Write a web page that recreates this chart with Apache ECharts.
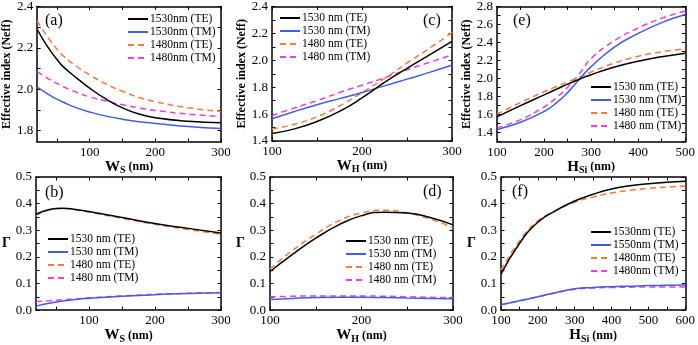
<!DOCTYPE html>
<html><head><meta charset="utf-8">
<script src="https://cdn.jsdelivr.net/npm/echarts@6/dist/echarts.min.js"></script>
<style>html,body{margin:0;padding:0;background:#fff}#c{width:698px;height:345px}</style>
</head><body><div id="c"></div>
<script>
// ---------- DATA ----------
// Panel (a): Neff vs Ws
const xA = [20, 30, 40, 50, 60, 80, 100, 125, 150, 175, 200, 250, 300];
const aTE1530 = [2.29, 2.235, 2.187, 2.145, 2.108, 2.055, 2.005, 1.952, 1.91, 1.88, 1.862, 1.845, 1.838];
const aTM1530 = [2.01, 1.99, 1.97, 1.952, 1.937, 1.91, 1.89, 1.87, 1.855, 1.843, 1.835, 1.82, 1.81];
const aTE1480 = [2.33, 2.28, 2.235, 2.195, 2.16, 2.11, 2.07, 2.025, 1.99, 1.96, 1.94, 1.91, 1.893];
const aTM1480 = [2.085, 2.065, 2.045, 2.028, 2.012, 1.985, 1.963, 1.943, 1.925, 1.91, 1.897, 1.88, 1.868];
// Panel (c): Neff vs WH
const xC = [100, 125, 150, 175, 200, 225, 250, 275, 300];
const cTE1530 = [1.455, 1.49, 1.545, 1.62, 1.72, 1.835, 1.94, 2.04, 2.14];
const cTM1530 = [1.565, 1.62, 1.67, 1.715, 1.76, 1.81, 1.86, 1.91, 1.965];
const cTE1480 = [1.49, 1.525, 1.58, 1.66, 1.76, 1.865, 1.98, 2.09, 2.205];
const cTM1480 = [1.59, 1.646, 1.70, 1.76, 1.815, 1.87, 1.93, 1.985, 2.04];
// Panel (e): Neff vs HSi
const xE = [100, 150, 200, 225, 250, 275, 300, 350, 400, 450, 500];
const eTE1530 = [1.57, 1.695, 1.815, 1.875, 1.935, 1.99, 2.04, 2.125, 2.19, 2.24, 2.28];
const eTM1530 = [1.43, 1.51, 1.63, 1.72, 1.84, 1.99, 2.13, 2.35, 2.50, 2.62, 2.71];
const eTE1480 = [1.60, 1.73, 1.85, 1.905, 1.96, 2.01, 2.07, 2.17, 2.245, 2.295, 2.33];
const eTM1480 = [1.45, 1.54, 1.68, 1.78, 1.90, 2.05, 2.22, 2.42, 2.56, 2.67, 2.75];
// Panel (b): Gamma vs Ws
const xB = [20, 40, 60, 80, 100, 150, 200, 250, 300];
const bTE1530 = [0.36, 0.378, 0.383, 0.378, 0.37, 0.348, 0.325, 0.307, 0.29];
const bTM1530 = [0.015, 0.026, 0.034, 0.04, 0.044, 0.052, 0.058, 0.062, 0.065];
const bTE1480 = [0.356, 0.376, 0.382, 0.377, 0.368, 0.345, 0.322, 0.303, 0.285];
const bTM1480 = [0.032, 0.035, 0.039, 0.042, 0.046, 0.053, 0.059, 0.063, 0.066];
// Panel (d): Gamma vs WH
const xD = [100, 125, 150, 175, 200, 225, 250, 275, 300];
const dTE1530 = [0.145, 0.21, 0.27, 0.32, 0.355, 0.368, 0.365, 0.348, 0.32];
const dTM1530 = [0.04, 0.044, 0.047, 0.048, 0.048, 0.047, 0.045, 0.044, 0.043];
const dTE1480 = [0.155, 0.225, 0.285, 0.335, 0.365, 0.375, 0.365, 0.342, 0.31];
const dTM1480 = [0.05, 0.052, 0.053, 0.053, 0.053, 0.052, 0.05, 0.048, 0.047];
// Panel (f): Gamma vs HSi
const xF = [100, 150, 200, 250, 300, 350, 400, 450, 500, 550, 600];
const fTE1530 = [0.135, 0.25, 0.33, 0.375, 0.41, 0.435, 0.455, 0.467, 0.475, 0.48, 0.484];
const fTM1550 = [0.02, 0.035, 0.05, 0.066, 0.08, 0.085, 0.088, 0.09, 0.092, 0.093, 0.094];
const fTE1480 = [0.15, 0.26, 0.335, 0.375, 0.405, 0.425, 0.44, 0.45, 0.457, 0.462, 0.466];
const fTM1480 = [0.02, 0.035, 0.05, 0.065, 0.078, 0.083, 0.085, 0.086, 0.087, 0.087, 0.087];

// Series names
const namesA = ['1530nm (TE)', '1530nm (TM)', '1480nm (TE)', '1480nm (TM)'];
const namesSp = ['1530 nm (TE)', '1530 nm (TM)', '1480 nm (TE)', '1480 nm (TM)'];
const namesF = ['1530nm (TE)', '1550nm (TM)', '1480nm (TE)', '1480nm (TM)'];

// Tick labels / tick positions
const xLabW = [100, 200, 300];
const xTickWs = [50, 100, 150, 200, 250, 300];
const xTickWH = [100, 150, 200, 250, 300];
const xLabH5 = [100, 200, 300, 400, 500];
const xTickH5 = [100, 150, 200, 250, 300, 350, 400, 450, 500];
const xLabH6 = [100, 200, 300, 400, 500, 600];
const xTickH6 = [100, 150, 200, 250, 300, 350, 400, 450, 500, 550, 600];
const yLabA = [1.8, 2.0, 2.2, 2.4];
const yTickA = [1.8, 1.9, 2.0, 2.1, 2.2, 2.3, 2.4];
const yLabC = [1.4, 1.6, 1.8, 2.0, 2.2, 2.4];
const yTickC = [1.4, 1.5, 1.6, 1.7, 1.8, 1.9, 2.0, 2.1, 2.2, 2.3, 2.4];
const yLabE = [1.4, 1.6, 1.8, 2.0, 2.2, 2.4, 2.6, 2.8];
const yTickE = [1.3, 1.4, 1.5, 1.6, 1.7, 1.8, 1.9, 2.0, 2.1, 2.2, 2.3, 2.4, 2.5, 2.6, 2.7, 2.8];
const yLabG = [0.0, 0.1, 0.2, 0.3, 0.4, 0.5];
const yTickG = [0, 0.05, 0.1, 0.15, 0.2, 0.25, 0.3, 0.35, 0.4, 0.45, 0.5];

// ---------- CHART ----------
const F = '"Liberation Serif", "Times New Roman", serif';
const COL = ['#000000', '#3f5fe0', '#f47a3c', '#f03be4'];
const DASH = [null, null, [6, 4], [6, 4]];

const richW = {
  b: {fontFamily: F, fontWeight: 'bold', fontSize: 15, color: '#000'},
  s: {fontFamily: F, fontWeight: 'bold', fontSize: 10, color: '#000', padding: [7, 0, 0, 0]},
  n: {fontFamily: F, fontWeight: 'bold', fontSize: 12, color: '#000'}
};
const nameWs = '{b|W}{s|S}{n| (nm)}';
const nameWH = '{b|W}{s|H}{n| (nm)}';
const nameHSi = '{b|H}{s|Si}{n| (nm)}';
const nameNeff = 'Effective index (Neff)';
const nameG = 'Γ';

const panels = [
  {grid: {left: 36, top: 6, width: 185, height: 136}, xMin: 20, xMax: 300, xT: xTickWs, xL: xLabW,
   yMin: 1.745, yMax: 2.4, yT: yTickA, yL: yLabA, xName: nameWs, yName: nameNeff,
   xs: xA, ys: [aTE1530, aTM1530, aTE1480, aTM1480], names: namesA, lg: [127, 13], tag: '(a)', tp: [45, 13]},
  {grid: {left: 272, top: 6, width: 180, height: 135}, xMin: 100, xMax: 300, xT: xTickWH, xL: xLabW,
   yMin: 1.4, yMax: 2.4, yT: yTickC, yL: yLabC, xName: nameWH, yName: nameNeff,
   xs: xC, ys: [cTE1530, cTM1530, cTE1480, cTM1480], names: namesSp, lg: [279, 12], tag: '(c)', tp: [423, 13]},
  {grid: {left: 497, top: 6, width: 191, height: 136}, xMin: 100, xMax: 500, xT: xTickH5, xL: xLabH5,
   yMin: 1.29, yMax: 2.8, yT: yTickE, yL: yLabE, xName: nameHSi, yName: nameNeff,
   xs: xE, ys: [eTE1530, eTM1530, eTE1480, eTM1480], names: namesSp, lg: [590, 81], tag: '(e)', tp: [513, 13]},
  {grid: {left: 36, top: 177, width: 185, height: 136}, xMin: 20, xMax: 300, xT: xTickWs, xL: xLabW,
   yMin: 0, yMax: 0.5, yT: yTickG, yL: yLabG, xName: nameWs, yName: nameG,
   xs: xB, ys: [bTE1530, bTM1530, bTE1480, bTM1480], names: namesSp, lg: [47, 233], tag: '(b)', tp: [45, 185]},
  {grid: {left: 270, top: 177, width: 183, height: 136}, xMin: 100, xMax: 300, xT: xTickWH, xL: xLabW,
   yMin: 0, yMax: 0.5, yT: yTickG, yL: yLabG, xName: nameWH, yName: nameG,
   xs: xD, ys: [dTE1530, dTM1530, dTE1480, dTM1480], names: namesSp, lg: [345, 235], tag: '(d)', tp: [423, 184]},
  {grid: {left: 501, top: 177, width: 187, height: 136}, xMin: 100, xMax: 600, xT: xTickH6, xL: xLabH6,
   yMin: 0, yMax: 0.5, yT: yTickG, yL: yLabG, xName: nameHSi, yName: nameG,
   xs: xF, ys: [fTE1530, fTM1550, fTE1480, fTM1480], names: namesF, lg: [590, 226], tag: '(f)', tp: [512, 184]}
];

const grids = [], xAxes = [], yAxes = [], series = [], legends = [], graphics = [];
const axLine = {show: true, onZero: false, lineStyle: {color: '#000', width: 1.5}};
panels.forEach((p, i) => {
  grids.push(Object.assign({containLabel: false}, p.grid));
  const tickX = {show: true, inside: true, length: 3.5, customValues: p.xT, lineStyle: {color: '#000', width: 1}};
  const tickY = {show: true, inside: true, length: 3.5, customValues: p.yT, lineStyle: {color: '#000', width: 1}};
  xAxes.push({type: 'value', gridIndex: i, position: 'bottom', min: p.xMin, max: p.xMax,
    axisLine: axLine, axisTick: tickX, splitLine: {show: false}, minorTick: {show: false},
    axisLabel: {show: true, customValues: p.xL, margin: 4, fontFamily: F, fontSize: 13, color: '#000',
      formatter: v => String(Math.round(v))},
    name: p.xName, nameLocation: 'middle', nameGap: 13, nameTextStyle: {rich: richW}});
  xAxes.push({type: 'value', gridIndex: i, position: 'top', min: p.xMin, max: p.xMax,
    axisLine: axLine, axisTick: tickX, splitLine: {show: false}, axisLabel: {show: false}});
  const isG = p.yName === nameG;
  yAxes.push({type: 'value', gridIndex: i, position: 'left', min: p.yMin, max: p.yMax,
    axisLine: axLine, axisTick: tickY, splitLine: {show: false}, minorTick: {show: false},
    axisLabel: {show: true, customValues: p.yL, margin: 4, fontFamily: F, fontSize: 13, color: '#000',
      formatter: v => v.toFixed(1)},
    name: p.yName, nameLocation: 'middle', nameGap: isG ? 20 : 20, nameRotate: isG ? 0 : 90,
    nameTextStyle: {fontFamily: F, fontWeight: 'bold', fontSize: isG ? 14 : 12, color: '#000'}});
  yAxes.push({type: 'value', gridIndex: i, position: 'right', min: p.yMin, max: p.yMax,
    axisLine: axLine, axisTick: tickY, splitLine: {show: false}, axisLabel: {show: false}});
  p.ys.forEach((ys, k) => {
    series.push({type: 'line', name: p.names[k], xAxisIndex: 2 * i, yAxisIndex: 2 * i,
      data: p.xs.map((x, j) => [x, ys[j]]), symbol: 'none', smooth: true,
      lineStyle: {color: COL[k], width: 1.5, type: DASH[k] || 'solid'}, itemStyle: {color: COL[k]},
      z: 10 - k, silent: true, animation: false});
  });
  legends.push({orient: 'vertical', left: p.lg[0], top: p.lg[1], padding: 0, itemGap: 1,
    itemWidth: 20, itemHeight: 10, selectedMode: false, data: p.names,
    itemStyle: {color: 'rgba(0,0,0,0)', borderColor: 'rgba(0,0,0,0)', borderWidth: 0},
    textStyle: {fontFamily: F, fontSize: 11.5, color: '#000', padding: [0, 0, 0, -3]}});
  graphics.push({type: 'text', left: p.tp[0], top: p.tp[1],
    style: {text: p.tag, font: '16px "Liberation Serif"', fill: '#000'}});
});

const chart = echarts.init(document.getElementById('c'), null, {renderer: 'canvas'});
chart.setOption({
  animation: false,
  backgroundColor: '#fff',
  grid: grids, xAxis: xAxes, yAxis: yAxes, series: series, legend: legends, graphic: graphics
});
</script></body></html>
